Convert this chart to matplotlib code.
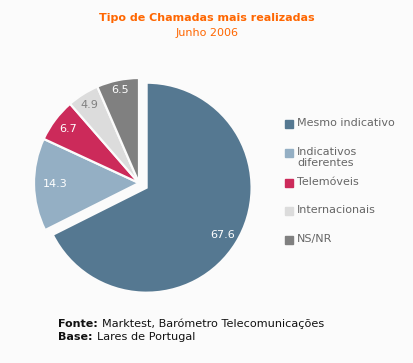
import matplotlib.pyplot as plt
import numpy as np
from matplotlib.patches import Rectangle
from matplotlib.offsetbox import TextArea, HPacker, AnchoredOffsetbox

# data
categories = ["Mesmo indicativo", "Indicativos\ndiferentes", "Telemóveis",
              "Internacionais", "NS/NR"]
values = [67.6, 14.3, 6.7, 4.9, 6.5]
colors = ["#557891", "#94afc4", "#cc2a5a", "#dcdcdc", "#808080"]
label_colors = ["white", "white", "white", "#808080", "white"]
source = [("Fonte:", "Marktest, Barómetro Telecomunicações"),
          ("Base:", "Lares de Portugal")]

bg = "#fbfbfb"
W, H = 413, 363
fig = plt.figure(figsize=(W / 100, H / 100), dpi=100, facecolor=bg)

# pie axes: 1 data unit = 105 px, centre at (139, 183) px from top-left
r_px = 105
lim = 1.3
side = 2 * lim * r_px
cx, cy = 139, 183
ax = fig.add_axes([(cx - side / 2) / W, (H - cy - side / 2) / H, side / W, side / H])
ax.set_facecolor(bg)

wedges, _ = ax.pie(values, colors=colors, startangle=90, counterclock=False,
                   explode=[0.085, 0, 0, 0, 0], radius=1.0,
                   wedgeprops=dict(edgecolor=bg, linewidth=1.6))
ax.set_xlim(-lim, lim)
ax.set_ylim(-lim, lim)
ax.set_aspect("equal")
ax.axis("off")

# value labels inside slices
dists = [0.85, 0.8, 0.85, 0.88, 0.9]
for w, v, c, d in zip(wedges, values, label_colors, dists):
    ang = np.deg2rad((w.theta1 + w.theta2) / 2)
    x0, y0 = w.center
    ax.text(x0 + d * np.cos(ang), y0 + d * np.sin(ang), f"{v:.1f}",
            ha="center", va="center", color=c, fontsize=8)

# title
fig.text(207 / W, 1 - 18 / H, "Tipo de Chamadas mais realizadas", ha="center",
         va="center", color="#ff6600", fontsize=8, fontweight="bold")
fig.text(207 / W, 1 - 33 / H, "Junho 2006", ha="center", va="center",
         color="#ff6600", fontsize=8)

# legend, placed by hand as in the original
leg_y = [124, 153, 183, 211, 240]
for lab, col, y in zip(categories, colors, leg_y):
    fig.patches.append(Rectangle(((285) / W, 1 - (y + 4) / H), 8 / W, 8 / H,
                                 transform=fig.transFigure, color=col))
    fig.text(297 / W, 1 - (y - 6) / H, lab, ha="left", va="top",
             color="#666666", fontsize=8, linespacing=1.1)

# source lines: bold prefix followed by regular text
for i, (head, rest) in enumerate(source):
    box = HPacker(children=[
        TextArea(head, textprops=dict(color="#111111", fontsize=8, fontweight="bold")),
        TextArea(rest, textprops=dict(color="#111111", fontsize=8.1))],
        align="baseline", pad=0, sep=3)
    anc = AnchoredOffsetbox(loc="center left", child=box, pad=0, borderpad=0,
                            frameon=False, bbox_to_anchor=(58 / W, 1 - (324 + 13 * i) / H),
                            bbox_transform=fig.transFigure)
    fig.add_artist(anc)

fig.savefig("out.png", dpi=100, facecolor=bg)
